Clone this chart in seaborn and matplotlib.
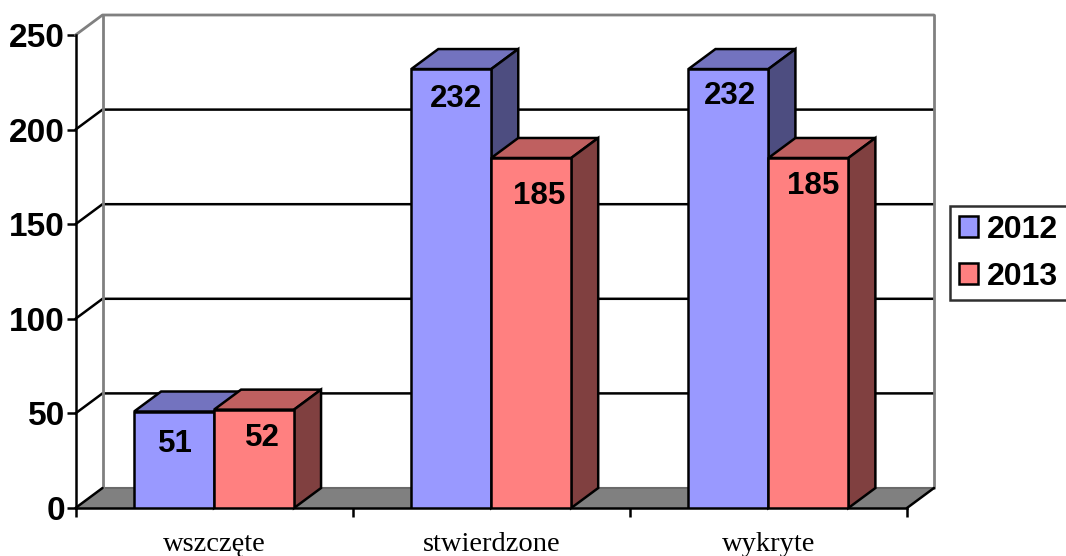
import seaborn as sns
import pandas as pd
import matplotlib.pyplot as plt
from matplotlib.patches import Polygon

categories = ['wszczęte', 'stwierdzone', 'wykryte']
values_2012 = [51, 232, 232]
values_2013 = [52, 185, 185]
y_ticks = [0, 50, 100, 150, 200, 250]

# data labels sit by hand inside the bars in the original (pixels from bar top centre)
label_shift_2012 = [(1, -32), (5, -30), (2, -27)]
label_shift_2013 = [(8, -28), (8, -38), (5, -28)]

front_colors = {'2012': '#9999FF', '2013': '#FF8080'}
top_colors = {'2012': '#7373BF', '2013': '#BF6060'}
side_colors = {'2012': '#4D4D80', '2013': '#804040'}

W, H = 1066, 556
left, right, bottom, top = 75.5, 907, 508, 35
depth_px = (27, 20)
wall_grey = '#808080'
lw = 1.8

sns.set_style('white')
plt.rcParams['font.family'] = ['Liberation Sans', 'DejaVu Sans']
plt.rcParams['text.color'] = 'black'
plt.rcParams['ytick.labelcolor'] = 'black'
plt.rcParams['xtick.labelcolor'] = 'black'

df = pd.DataFrame({
    'kategoria': categories * 2,
    'rok': ['2012'] * 3 + ['2013'] * 3,
    'liczba': values_2012 + values_2013,
})

fig = plt.figure(figsize=(W / 100, H / 100), dpi=100)
ax = fig.add_axes([left / W, 1 - bottom / H, (right - left) / W, (bottom - top) / H])

sns.barplot(data=df, x='kategoria', y='liczba', hue='rok', palette=front_colors,
            saturation=1, width=0.577, gap=0, edgecolor='black', linewidth=lw,
            zorder=4, ax=ax)
ax.set_xlim(-0.5, 2.5)
ax.set_ylim(0, 250)
ax.set_xlabel('')
ax.set_ylabel('')

# depth of the fake 3d box, in data units
dx = depth_px[0] * 3 / (right - left)
dy = depth_px[1] * 250 / (bottom - top)
x0, x1 = -0.5, 2.5

# walls and floor
ax.add_patch(Polygon([(x0, 0), (x1, 0), (x1 + dx, dy), (x0 + dx, dy)], closed=True,
                     facecolor=wall_grey, edgecolor='none', zorder=1, clip_on=False))
ax.plot([x0 + dx, x1 + dx], [dy, dy], color='#6a6a6a', lw=1.5, zorder=1.2, clip_on=False)
for v in y_ticks[1:-1]:
    ax.plot([x0, x0 + dx, x1 + dx], [v, v + dy, v + dy], color='black', lw=lw,
            zorder=1.5, clip_on=False)
ax.plot([x0, x0 + dx, x1 + dx], [250, 250 + dy, 250 + dy], color=wall_grey, lw=2,
        zorder=1.5, clip_on=False)
for xb in [x0 + dx, x1 + dx]:
    ax.plot([xb, xb], [dy, 250 + dy], color=wall_grey, lw=2, zorder=1.6, clip_on=False)
for xb in [x0, x1]:
    ax.plot([xb, xb + dx], [0, dy], color='black', lw=lw, zorder=1.8, clip_on=False)

# top and side faces + labels, taken from the bars seaborn drew
years = ['2012', '2013']
shifts = [label_shift_2012, label_shift_2013]
for i, (container, year) in enumerate(zip(ax.containers, years)):
    for bar, shift in zip(container, shifts[i]):
        bx0 = bar.get_x()
        bx1 = bx0 + bar.get_width()
        h = bar.get_height()
        ax.add_patch(Polygon([(bx0, h), (bx1, h), (bx1 + dx, h + dy), (bx0 + dx, h + dy)],
                             closed=True, facecolor=top_colors[year], edgecolor='black',
                             lw=lw, zorder=3 + i * 0.2, clip_on=False))
        ax.add_patch(Polygon([(bx1, 0), (bx1 + dx, dy), (bx1 + dx, h + dy), (bx1, h)],
                             closed=True, facecolor=side_colors[year], edgecolor='black',
                             lw=lw, zorder=3 + i * 0.2, clip_on=False))
        ax.annotate(str(int(h)), xy=(bx0 + bar.get_width() / 2, h), xytext=shift,
                    textcoords='offset pixels', ha='center', va='center',
                    fontsize=22.5, fontweight='bold', color='black', zorder=6)

sns.despine(ax=ax, top=True, right=True)
for side in ['left', 'bottom']:
    ax.spines[side].set_linewidth(lw)
    ax.spines[side].set_color('black')
    ax.spines[side].set_zorder(2)

ax.set_yticks(y_ticks)
ax.tick_params(axis='y', which='major', left=True, length=6.5, width=lw, color='black', pad=1,
               labelsize=24, labelcolor='black')
for t in ax.get_yticklabels():
    t.set_fontweight('bold')

ax.set_xticks([-0.5, 0.5, 1.5, 2.5], labels=[])
ax.set_xticks([0, 1, 2], labels=categories, minor=True)
ax.tick_params(axis='x', which='major', bottom=True, length=6.5, width=lw, color='black')
ax.tick_params(axis='x', which='minor', bottom=False, length=0, pad=17, labelsize=20.5,
               labelcolor='black')
for t in ax.get_xticklabels(minor=True):
    t.set_fontfamily('Liberation Serif')

handles, labels = ax.get_legend_handles_labels()
leg = ax.legend(handles, labels, loc='upper left',
                bbox_to_anchor=(950 / W, 1 - 206 / H), bbox_transform=fig.transFigure,
                frameon=True, fancybox=False, framealpha=1, edgecolor='#303030',
                title=None, borderaxespad=0, borderpad=0.27,
                handlelength=0.62, handleheight=0.62, handletextpad=0.28, labelspacing=0.53,
                labelcolor='black',
                prop={'family': 'Liberation Sans', 'weight': 'bold', 'size': 23})
leg.get_frame().set_linewidth(lw)

fig.savefig('out.png', dpi=100)
